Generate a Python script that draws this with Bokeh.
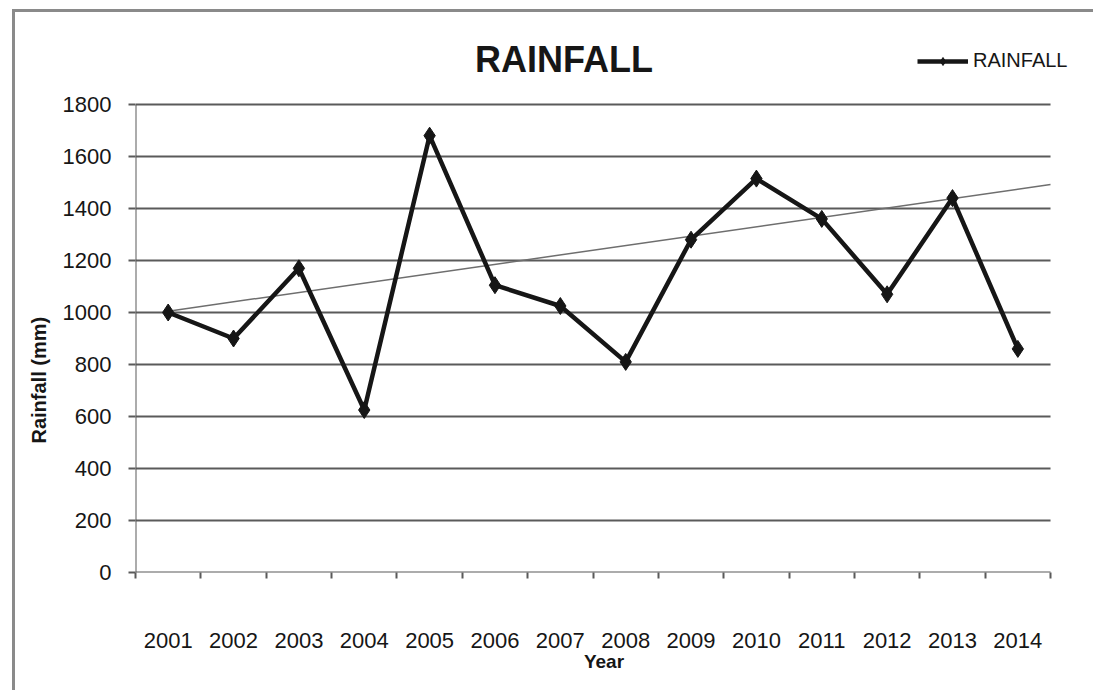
from bokeh.plotting import figure
from bokeh.models import Range1d, FixedTicker, Legend, LegendItem, Label, Title
from bokeh.embed import file_html
from bokeh.resources import INLINE

# Annual rainfall (mm)
years = ["2001", "2002", "2003", "2004", "2005", "2006", "2007",
         "2008", "2009", "2010", "2011", "2012", "2013", "2014"]
rainfall = [1000, 900, 1170, 625, 1680, 1105, 1025,
            810, 1280, 1515, 1360, 1070, 1440, 860]

# Linear trend: value at the first year and at the right end of the axis
trend_values = [1005, 1492]

y_ticks = [0, 200, 400, 600, 800, 1000, 1200, 1400, 1600, 1800]
y_max = 1800

FONT = "Liberation Sans"
INK = "#161616"
GRID = "#5a5a5a"

# chart area sits inside a thin border on its left and top sides
OX, OY = 15, 12
W, H = 1096 - OX, 693 - OY

n = len(years)
xs = list(range(1, n + 1))
x_lo, x_hi = 0.5, n + 0.5

# plotting frame reaches the top of the chart area so that the title and
# legend can sit in it; axis lines and gridlines stop at the data region
FRAME_L, FRAME_R, FRAME_B = 119, 1057, 560
PLOT_W, PLOT_H = 916, 468
x_end = x_lo + (x_hi - x_lo) * (FRAME_R - FRAME_L) / PLOT_W
y_end = y_max * FRAME_B / PLOT_H

p = figure(width=W, height=H, output_backend="svg", toolbar_location=None,
           title=None,
           x_range=Range1d(x_lo, x_end), y_range=Range1d(0, y_end),
           min_border_left=FRAME_L, min_border_right=W - FRAME_R,
           min_border_top=0, min_border_bottom=H - FRAME_B,
           background_fill_color="white", border_fill_color="white",
           outline_line_color=None)
p.styles = {"border-left": "3px solid #8a8a8a", "border-top": "3px solid #8a8a8a",
            "margin-left": "12px", "margin-top": "9px"}

# x axis: category labels at centres, tick marks between categories
xa = p.xaxis[0]
xa.ticker = FixedTicker(ticks=xs, minor_ticks=[i + 0.5 for i in range(0, n + 1)])
xa.major_label_overrides = {x: y for x, y in zip(xs, years)}
xa.major_tick_out = 0
xa.major_tick_in = 0
xa.minor_tick_out = 6
xa.minor_tick_in = 0
xa.minor_tick_line_color = GRID
xa.minor_tick_line_width = 2
xa.axis_line_color = None
xa.major_label_standoff = 54
xa.major_label_text_font = FONT
xa.major_label_text_font_size = "22px"
xa.major_label_text_color = INK
xa.axis_label = "Year"
xa.axis_label_text_font = FONT
xa.axis_label_text_font_size = "19px"
xa.axis_label_text_font_style = "bold"
xa.axis_label_text_color = INK
xa.axis_label_standoff = 0

# y axis
ya = p.yaxis[0]
ya.ticker = FixedTicker(ticks=y_ticks, minor_ticks=[])
ya.major_tick_out = 7
ya.major_tick_in = 0
ya.major_tick_line_color = GRID
ya.major_tick_line_width = 2
ya.axis_line_color = None
ya.major_label_standoff = 17
ya.major_label_text_font = FONT
ya.major_label_text_font_size = "22px"
ya.major_label_text_color = INK

# rotated y-axis title, set against the lower part of the axis
p.add_layout(Title(text="Rainfall (mm)", align="left", offset=129, standoff=20,
                   text_font=FONT, text_font_size="20px", text_font_style="bold",
                   text_color=INK), "left")

p.xgrid.visible = False
p.ygrid.visible = False

# gridlines and axis lines across the data region
p.segment(x0=[x_lo] * len(y_ticks), x1=[x_hi] * len(y_ticks),
          y0=y_ticks, y1=y_ticks, line_color=GRID, line_width=2)
p.segment(x0=[x_lo], x1=[x_lo], y0=[0], y1=[y_max], line_color=GRID, line_width=2)

# trend line
p.line([xs[0], x_hi], trend_values, line_color="#6e6e6e", line_width=1.5)

# rainfall series
ln = p.line(xs, rainfall, line_color=INK, line_width=4.5)
mk = p.scatter(xs, rainfall, marker="diamond", size=17,
               fill_color=INK, line_color=INK)

# chart title
p.add_layout(Label(x=x_lo + (548 - FRAME_L) * (x_hi - x_lo) / PLOT_W,
                   y=y_max * (FRAME_B - 47) / PLOT_H,
                   text="RAINFALL", text_align="center", text_baseline="middle",
                   text_font=FONT, text_font_size="36px", text_font_style="bold",
                   text_color=INK))

legend = Legend(items=[LegendItem(label="RAINFALL", renderers=[ln, mk])],
                location=(782, 500), orientation="horizontal",
                glyph_width=51, glyph_height=20, label_standoff=5,
                label_height=20,
                padding=0, margin=0, border_line_color=None,
                background_fill_alpha=0,
                label_text_font=FONT, label_text_font_size="20px",
                label_text_color=INK)
p.add_layout(legend, "center")

open("out.html", "w").write(file_html(p, INLINE))
